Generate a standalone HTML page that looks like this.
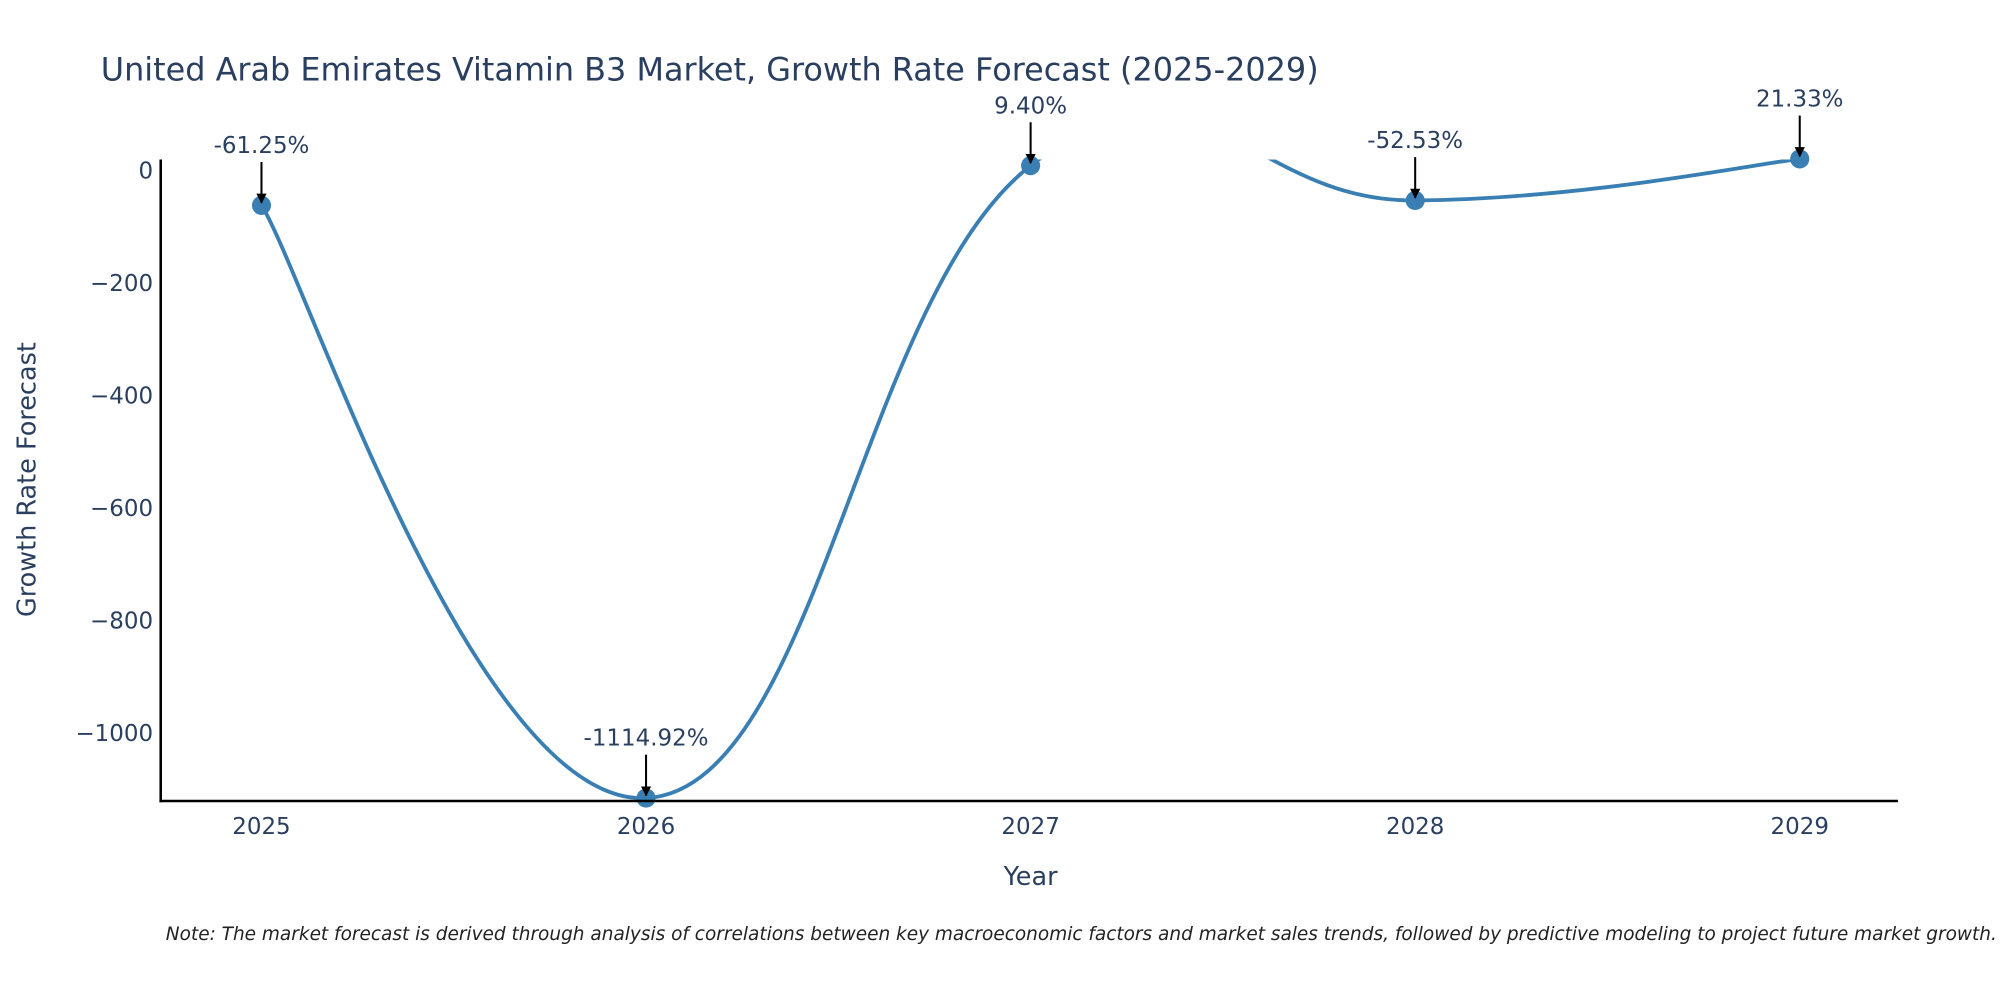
<!DOCTYPE html>
<html><head><meta charset="utf-8"><style>html,body{margin:0;padding:0;background:#fff}svg{display:block}</style></head>
<body>
<svg id="chart" width="2000" height="1000" viewBox="0 0 1568 784" xmlns="http://www.w3.org/2000/svg" font-family="DejaVu Sans, Liberation Sans, sans-serif">
<defs><clipPath id="plotclip"><rect x="126" y="125" width="1362" height="503"/></clipPath>
<marker id="ah" viewBox="0 0 10 10" refX="9" refY="5" markerWidth="5" markerHeight="5" orient="auto"><path d="M0,0 L10,5 L0,10 z" fill="#000"/></marker></defs>
<text x="79" y="63" font-size="25" fill="#2a3f5f">United Arab Emirates Vitamin B3 Market, Growth Rate Forecast (2025-2029)</text>
<g id="yticks"></g><g id="xticks"></g>
<path id="line" fill="none" stroke="#3a7fb4" stroke-width="3" clip-path="url(#plotclip)"/>
<g id="marks"></g>
<line x1="126" y1="125" x2="126" y2="629" stroke="#000" stroke-width="2"/>
<line x1="125" y1="628" x2="1488" y2="628" stroke="#000" stroke-width="2"/>
<text transform="translate(28,376) rotate(-90)" text-anchor="middle" font-size="20" fill="#2a3f5f">Growth Rate Forecast</text>
<text x="808" y="694" text-anchor="middle" font-size="20" fill="#2a3f5f">Year</text>
<text x="130" y="737" font-size="14.5" font-style="italic" fill="#222">Note: The market forecast is derived through analysis of correlations between key macroeconomic factors and market sales trends, followed by predictive modeling to project future market growth.</text>
</svg>
<script>
const years=[2025,2026,2027,2028,2029];
const values=[-61.25,-1114.92,9.40,-52.53,21.33];
const labels=["-61.25%","-1114.92%","9.40%","-52.53%","21.33%"];
const yTickVals=[0,-200,-400,-600,-800,-1000];
const yTickLabels=["0","\u2212200","\u2212400","\u2212600","\u2212800","\u22121000"];
const NS="http://www.w3.org/2000/svg";
const xs=y=>205+(y-2025)*301.5;
const ys=v=>134-v*0.441;
function mk(t,a,p){const e=document.createElementNS(NS,t);for(const k in a)e.setAttribute(k,a[k]);p.appendChild(e);return e;}
const yt=document.getElementById('yticks');
yTickVals.forEach((v,i)=>{const t=mk('text',{x:120,y:ys(v)+6,'text-anchor':'end','font-size':18,fill:'#2a3f5f'},yt);


t.textContent=yTickLabels[i];});
const xt=document.getElementById('xticks');
years.forEach(y=>{const t=mk('text',{x:xs(y),y:654,'text-anchor':'middle','font-size':18,fill:'#2a3f5f'},xt);


t.textContent=y;});
const P=years.map((y,i)=>[xs(y),ys(values[i])]);
const k=1/4.5;
let d=`M${P[0][0]},${P[0][1]}`;
for(let i=0;i<P.length-1;i++){const p0=P[Math.max(0,i-1)],p1=P[i],p2=P[i+1],p3=P[Math.min(P.length-1,i+2)];
const c1=[p1[0]+(p2[0]-p0[0])*k*(i==0?0.5:1),p1[1]+(p2[1]-p0[1])*k*(i==0?0.5:1)],c2=[p2[0]-(p3[0]-p1[0])*k*(i==P.length-2?0.5:1),p2[1]-(p3[1]-p1[1])*k*(i==P.length-2?0.5:1)];
d+=` C${c1[0]},${c1[1]} ${c2[0]},${c2[1]} ${p2[0]},${p2[1]}`;}
document.getElementById('line').setAttribute('d',d);
const g=document.getElementById('marks');
P.forEach((p,i)=>{const c=mk('circle',{cx:p[0],cy:p[1],r:7.5,fill:'#3a7fb4'},g);


const l=mk('line',{x1:p[0],y1:p[1]-34,x2:p[0],y2:p[1]-2,stroke:'#000','stroke-width':1.6,'marker-end':'url(#ah)'},g);


const t=mk('text',{x:p[0],y:p[1]-41,'text-anchor':'middle','font-size':18,fill:'#2a3f5f'},g);


t.textContent=labels[i];});
</script>
</body></html>
